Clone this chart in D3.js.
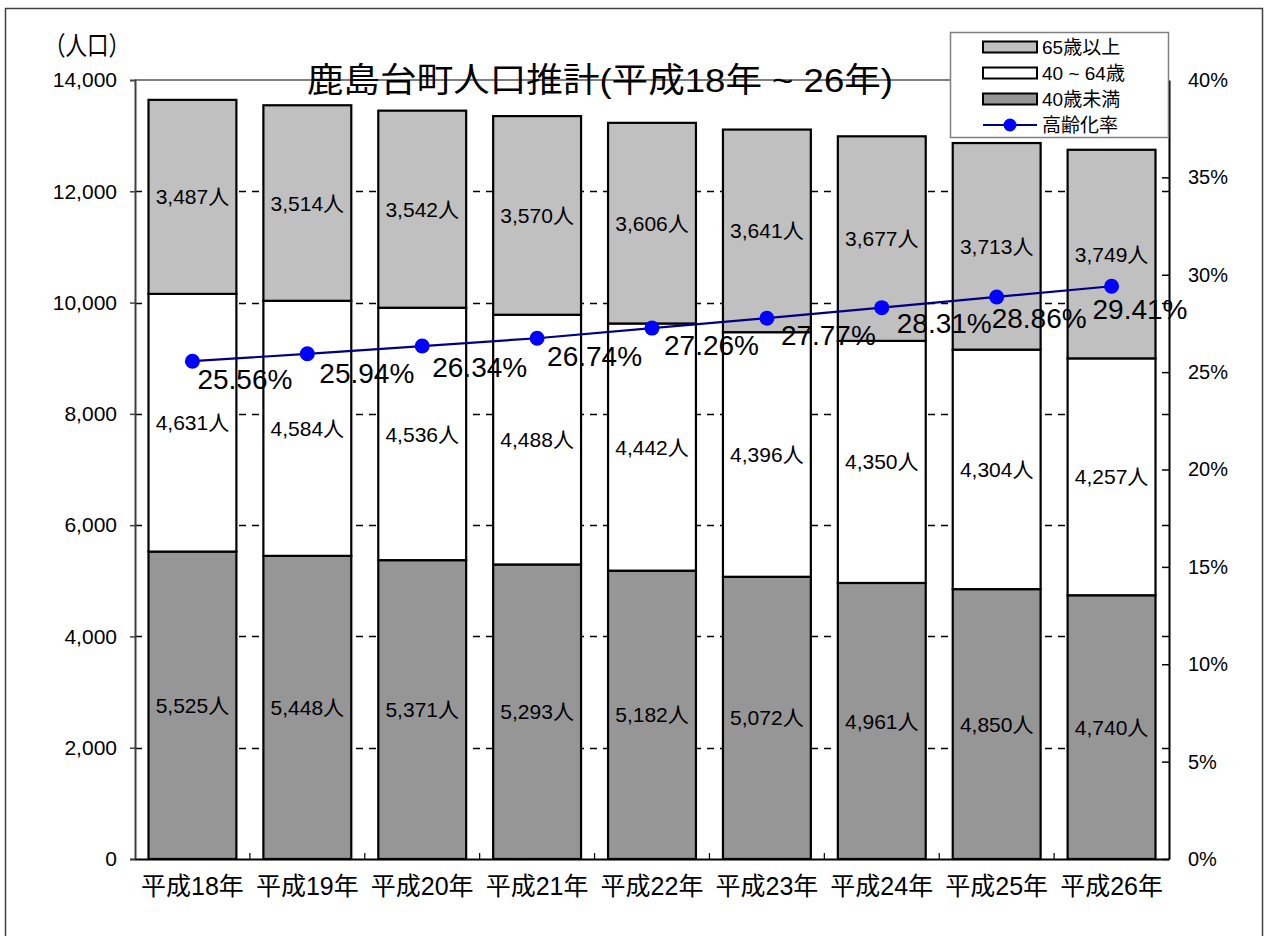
<!DOCTYPE html>
<html>
<head>
<meta charset="utf-8">
<script src="https://cdn.jsdelivr.net/npm/d3@7"></script>
<style>
  html, body { margin: 0; padding: 0; background: #fff; }
  svg { display: block; }
  text { font-family: "Liberation Sans", Arial, "Noto Sans CJK JP", sans-serif; fill: #000; }
</style>
</head>
<body>
<svg id="chart" width="1265" height="936"></svg>
<script>
// 鹿島台町 population projection, 平成18年–26年
const years = ["平成18年", "平成19年", "平成20年", "平成21年", "平成22年", "平成23年", "平成24年", "平成25年", "平成26年"];
const under40 = [5525, 5448, 5371, 5293, 5182, 5072, 4961, 4850, 4740];
const age40to64 = [4631, 4584, 4536, 4488, 4442, 4396, 4350, 4304, 4257];
const over65 = [3487, 3514, 3542, 3570, 3606, 3641, 3677, 3713, 3749];
const agingRate = [25.56, 25.94, 26.34, 26.74, 27.26, 27.77, 28.31, 28.86, 29.41];

const seriesNames = ["40歳未満", "40 ~ 64歳", "65歳以上"];
const rateName = "高齢化率";
const leftTicks = [0, 2000, 4000, 6000, 8000, 10000, 12000, 14000];
const rightTicks = [0, 5, 10, 15, 20, 25, 30, 35, 40];

// layout
const plot = { left: 135, right: 1169, top: 80, bottom: 859 };
const colors = { "40歳未満": "#969696", "40 ~ 64歳": "#ffffff", "65歳以上": "#c0c0c0" };
// per-label nudges for the rate labels (dx, dy from the marker)
const rateLabelNudge = [[5, 28], [12, 29], [10, 31], [10, 28], [12, 27], [14, 27], [15, 25], [-5, 31], [-19, 33]];

const svg = d3.select("#chart");

// outer frame
svg.append("rect")
  .attr("x", 5.5).attr("y", 8.5).attr("width", 1257).attr("height", 940)
  .attr("fill", "#fff").attr("stroke", "#404040").attr("stroke-width", 1.5);

const x = d3.scaleBand().domain(years).range([plot.left, plot.right])
  .paddingInner(0.235).paddingOuter(0.1175);
const y = d3.scaleLinear().domain([0, 14000]).range([plot.bottom, plot.top]);
const y2 = d3.scaleLinear().domain([0, 40]).range([plot.bottom, plot.top]);

// dashed gridlines
svg.append("g").selectAll("line")
  .data(leftTicks.filter(t => t > 0 && t < 14000))
  .join("line")
  .attr("x1", plot.left).attr("x2", plot.right)
  .attr("y1", d => Math.round(y(d)) + 0.5).attr("y2", d => Math.round(y(d)) + 0.5)
  .attr("stroke", "#000").attr("stroke-width", 1.3).attr("stroke-dasharray", "7,6");

// plot frame top (gray)
svg.append("line")
  .attr("x1", plot.left).attr("x2", plot.right)
  .attr("y1", plot.top).attr("y2", plot.top)
  .attr("stroke", "#808080").attr("stroke-width", 2);

// stacked bars
const rows = years.map((yr, i) => ({ year: yr, "40歳未満": under40[i], "40 ~ 64歳": age40to64[i], "65歳以上": over65[i] }));
const stacked = d3.stack().keys(seriesNames)(rows);

const barG = svg.append("g");
stacked.forEach(layer => {
  barG.append("g").selectAll("rect")
    .data(layer)
    .join("rect")
    .attr("x", d => x(d.data.year))
    .attr("width", x.bandwidth())
    .attr("y", d => y(d[1]))
    .attr("height", d => y(d[0]) - y(d[1]))
    .attr("fill", colors[layer.key])
    .attr("stroke", "#000").attr("stroke-width", 2.2);
});

// value labels inside segments
stacked.forEach(layer => {
  svg.append("g").selectAll("text")
    .data(layer)
    .join("text")
    .attr("x", d => x(d.data.year) + x.bandwidth() / 2)
    .attr("y", d => (y(d[0]) + y(d[1])) / 2)
    .attr("dy", "0.36em")
    .attr("text-anchor", "middle")
    .attr("font-size", 21)
    .text(d => d3.format(",")(d[1] - d[0]) + "人");
});

// left axis
const leftAxis = d3.axisLeft(y).tickValues(leftTicks).tickFormat(d3.format(",")).tickSize(5).tickPadding(13);
const gl = svg.append("g").attr("transform", `translate(${plot.left},0)`).call(leftAxis);
gl.select(".domain").attr("stroke", "#404040").attr("stroke-width", 2);
gl.selectAll(".tick line").attr("stroke", "#404040").attr("stroke-width", 1.5);
gl.selectAll(".tick text").attr("font-size", 21).attr("font-family", null).attr("fill", "#000");
gl.select(".tick:last-of-type line").remove();

// right axis (ticks pointing inward)
const rightAxis = d3.axisRight(y2).tickValues(rightTicks).tickFormat(d => d + "%").tickSize(0).tickPadding(19);
const gr = svg.append("g").attr("transform", `translate(${plot.right},0)`).call(rightAxis);
gr.select(".domain").attr("stroke", "#000").attr("stroke-width", 2);
gr.selectAll(".tick text").attr("font-size", 20).attr("font-family", null).attr("fill", "#000");
gr.selectAll(".tick").append("line")
  .attr("x1", -7).attr("x2", 0).attr("stroke", "#000").attr("stroke-width", 1.5);

// bottom axis (small inward ticks between categories)
const bottomAxis = d3.axisBottom(x).tickSize(0).tickPadding(18);
const gb = svg.append("g").attr("transform", `translate(0,${plot.bottom})`).call(bottomAxis);
gb.select(".domain").attr("stroke", "#000").attr("stroke-width", 2);
gb.selectAll(".tick text").attr("font-size", 25).attr("font-family", null).attr("fill", "#000");
svg.append("g").selectAll("line")
  .data(years.slice(1))
  .join("line")
  .attr("x1", d => x(d) - x.step() * x.paddingInner() / 2)
  .attr("x2", d => x(d) - x.step() * x.paddingInner() / 2)
  .attr("y1", plot.bottom).attr("y2", plot.bottom - 6)
  .attr("stroke", "#000").attr("stroke-width", 1.2);

// aging-rate line
const cx = d => x(d.year) + x.bandwidth() / 2;
const ratePts = years.map((yr, i) => ({ year: yr, v: agingRate[i], i }));
svg.append("path")
  .datum(ratePts)
  .attr("fill", "none").attr("stroke", "#000080").attr("stroke-width", 2.2)
  .attr("d", d3.line().x(cx).y(d => y2(d.v)));
svg.append("g").selectAll("circle")
  .data(ratePts)
  .join("circle")
  .attr("cx", cx).attr("cy", d => y2(d.v)).attr("r", 7.5)
  .attr("fill", "#0000ff");
svg.append("g").selectAll("text")
  .data(ratePts)
  .join("text")
  .attr("x", d => cx(d) + rateLabelNudge[d.i][0])
  .attr("y", d => y2(d.v) + rateLabelNudge[d.i][1])
  .attr("font-size", 28)
  .text(d => d.v.toFixed(2) + "%");

// y-axis unit
svg.append("text")
  .attr("x", 44).attr("y", 55)
  .attr("font-size", 26)
  .attr("textLength", 86).attr("lengthAdjust", "spacingAndGlyphs")
  .text("（人口）");

// title
svg.append("text")
  .attr("x", 600).attr("y", 92)
  .attr("text-anchor", "middle")
  .attr("font-size", 34)
  .attr("textLength", 586).attr("lengthAdjust", "spacingAndGlyphs")
  .text("鹿島台町人口推計(平成18年 ~ 26年)");

// legend
const lg = svg.append("g");
lg.append("rect")
  .attr("x", 950.5).attr("y", 32.5).attr("width", 218).attr("height", 105)
  .attr("fill", "#fff").attr("stroke", "#808080").attr("stroke-width", 1.5);
const legendItems = [
  { name: "65歳以上", fill: colors["65歳以上"] },
  { name: "40 ~ 64歳", fill: colors["40 ~ 64歳"] },
  { name: "40歳未満", fill: colors["40歳未満"] },
  { name: rateName, line: true }
];
legendItems.forEach((it, i) => {
  const cy = 47 + i * 26;
  if (it.line) {
    lg.append("line").attr("x1", 983).attr("x2", 1037).attr("y1", cy).attr("y2", cy)
      .attr("stroke", "#000080").attr("stroke-width", 2.2);
    lg.append("circle").attr("cx", 1010).attr("cy", cy).attr("r", 6.5).attr("fill", "#0000ff");
  } else {
    lg.append("rect").attr("x", 983).attr("y", cy - 5.5).attr("width", 54).attr("height", 11)
      .attr("fill", it.fill).attr("stroke", "#000").attr("stroke-width", 2);
  }
  lg.append("text").attr("x", 1042).attr("y", cy).attr("dy", "0.36em")
    .attr("font-size", 19).text(it.name);
});
</script>
</body>
</html>
